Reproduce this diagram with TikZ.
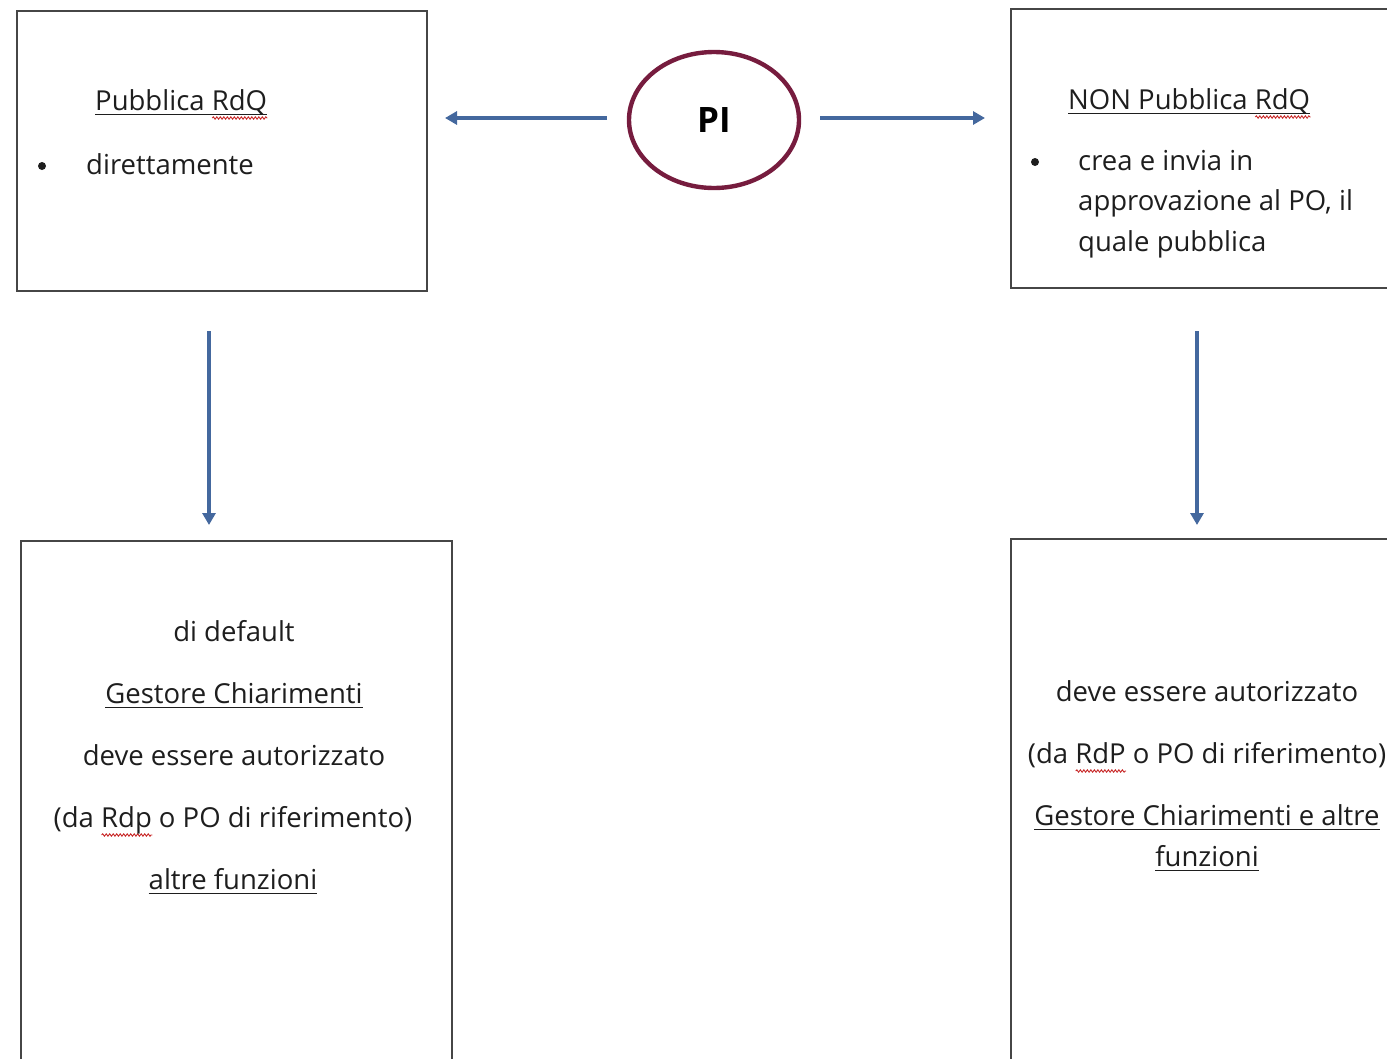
\documentclass[tikz,border=0pt]{standalone}
\usepackage{fontspec}
\setmainfont{Open Sans}
\usetikzlibrary{shapes.geometric,arrows.meta,decorations.pathmorphing}
\definecolor{arrowblue}{RGB}{68,104,158}
\definecolor{maroon}{RGB}{118,28,62}
\definecolor{boxgray}{RGB}{70,70,70}
\definecolor{txt}{RGB}{30,30,30}
\definecolor{spellred}{RGB}{200,40,40}
\newlength\sperrw
\newsavebox\ulbox
\newcommand\sperr[1]{\settowidth\sperrw{#1}\rlap{\tikz[baseline=0pt]\draw[spellred,line width=0.9pt,decorate,decoration={snake,amplitude=1.2pt,segment length=3.5pt}] (0pt,-8pt) -- (\sperrw,-8pt);}#1}
\newcommand\ulx[1]{\sbox\ulbox{#1}\rlap{\color{txt}\rule[-5pt]{\wd\ulbox}{1.5pt}}\usebox\ulbox}
\begin{document}
\begin{tikzpicture}[x=1pt,y=-1pt,
  box/.style={draw=boxgray,line width=2.3pt,rectangle,anchor=north west,inner sep=0pt},
  lbl/.style={font=\fontsize{27.5}{32}\selectfont,text=txt,inner sep=0pt},
  dot/.style={circle,fill=txt,minimum size=8pt,inner sep=0pt},
  conn/.style={draw=arrowblue,line width=3.4pt,-{Triangle[length=12pt,width=13pt]}}]
\useasboundingbox (0,0) rectangle (1387,1058);
\clip (0,0) rectangle (1387,1058);
% boxes
\node[box,minimum width=410pt,minimum height=280pt] (tl) at (16,10) {};
\node[box,minimum width=500pt,minimum height=279pt] (tr) at (1010,8) {};
\node[box,minimum width=431pt,minimum height=600pt] (bl) at (20,540) {};
\node[box,minimum width=500pt,minimum height=600pt] (br) at (1010,538) {};
% PI ellipse
\node[ellipse,draw=maroon,line width=4.4pt,minimum width=170pt,minimum height=136pt,inner sep=0pt,font=\fontsize{35}{40}\selectfont\bfseries] (pi) at (714,120) {PI};
% top-left text
\node[lbl,anchor=base west] (tlt) at (95,110) {\ulx{Pubblica \sperr{RdQ}}};
\node[dot] (tlb) at (42,166) {};
\node[lbl,anchor=base west] (tl1) at (86,174) {direttamente};
% top-right text
\node[lbl,anchor=base west] (trt) at (1068,109) {\ulx{NON Pubblica \sperr{RdQ}}};
\node[dot] (trb) at (1035,162) {};
\node[lbl,anchor=base west] (tr1) at (1078,170) {crea e invia in};
\node[lbl,anchor=base west] (tr2) at (1078,210) {approvazione al PO, il};
\node[lbl,anchor=base west] (tr3) at (1078,251) {quale pubblica};
% bottom-left text
\node[lbl,anchor=base] (bl1) at (234,641) {di default};
\node[lbl,anchor=base] (bl2) at (234,703) {\ulx{Gestore Chiarimenti}};
\node[lbl,anchor=base] (bl3) at (234,765) {deve essere autorizzato};
\node[lbl,anchor=base] (bl4) at (233,827) {(da \sperr{Rdp} o PO di riferimento)};
\node[lbl,anchor=base] (bl5) at (233,889) {\ulx{altre funzioni}};
% bottom-right text
\node[lbl,anchor=base] (br1) at (1207,701) {deve essere autorizzato};
\node[lbl,anchor=base] (br2) at (1207,763) {(da \sperr{RdP} o PO di riferimento)};
\node[lbl,anchor=base] (br3) at (1207,825) {\ulx{Gestore Chiarimenti e altre}};
\node[lbl,anchor=base] (br4) at (1207,866) {\ulx{funzioni}};
% arrow ends
\coordinate (la1) at (607,118);
\coordinate (la2) at (445,118);
\coordinate (ra1) at (820,118);
\coordinate (ra2) at (985,118);
\coordinate (da1) at (209,331);
\coordinate (da2) at (209,525);
\coordinate (db1) at (1197,331);
\coordinate (db2) at (1197,525);
\draw[conn] (la1) -- (la2);
\draw[conn] (ra1) -- (ra2);
\draw[conn] (da1) -- (da2);
\draw[conn] (db1) -- (db2);
\end{tikzpicture}
\end{document}
